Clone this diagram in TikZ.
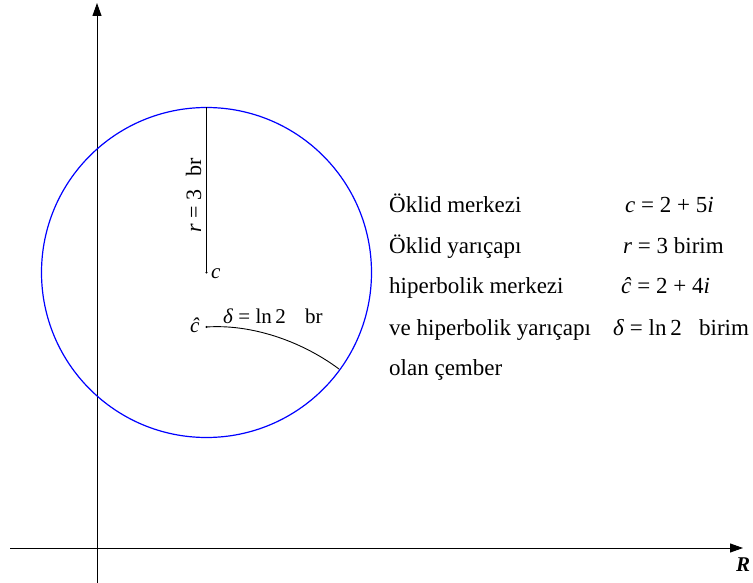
\documentclass[tikz,border=0pt]{standalone}
\usepackage{fontspec}
\setmainfont{Liberation Serif}
\usetikzlibrary{arrows.meta}
\begin{document}
\begin{tikzpicture}[x=1pt,y=-1pt,
  axis/.style={line width=1pt,-{Triangle[length=13pt,width=9pt]}},
  txt/.style={font=\fontsize{23}{27}\selectfont, anchor=base west, inner sep=0pt},
  lbl/.style={font=\fontsize{21}{25}\selectfont, anchor=base west, inner sep=0pt},
  dot/.style={circle, fill=black, inner sep=0pt, minimum size=2.4pt}]
\useasboundingbox (0,0) rectangle (753,583);
% axes
\coordinate (xs) at (10,548);
\coordinate (xe) at (743,548);
\coordinate (ys) at (97,583);
\coordinate (ye) at (97,3);
\draw[axis] (xs) -- (xe);
\draw[axis] (ys) -- (ye);
\node[font=\fontsize{21}{25}\selectfont\bfseries\itshape, inner sep=0pt] (R) at (743,565) {R};
% circle
\coordinate (c0) at (206.5,272.5);
\draw[blue, line width=1.2pt] (c0) circle (165pt);
\coordinate (top) at (206.5,107.5);
\node[dot] (c) at (c0) {};
\draw[line width=0.9pt] (c.center) -- (top);
\node[lbl, rotate=90, font=\fontsize{22}{26}\selectfont] (rlab) at (201,233) {\textit{r} = 3\,\, br};
\node[lbl] (clab) at (211,278) {\textit{c}};
% hyperbolic centre and radius
\node[dot] (ch) at (206.5,327) {};
\coordinate (e) at (339,369);
\draw[line width=0.9pt] (ch.center) .. controls (250,324) and (300,340) .. (e);
\node[lbl] (chlab) at (190,332) {\textit{ĉ}};
\node[lbl] (dlab) at (223,323) {\textit{δ} = ln\,2\hspace{14pt} br};
% legend
\node[txt] (t1) at (389,213) {Öklid merkezi};
\node[txt] (t2) at (389,253) {Öklid yarıçapı};
\node[txt] (t3) at (389,293) {hiperbolik merkezi};
\node[txt] (t4) at (389,335) {ve hiperbolik yarıçapı};
\node[txt] (t5) at (389,375) {olan çember};
\node[txt] (v1) at (625,213) {\textit{c} = 2 + 5\textit{i}};
\node[txt] (v2) at (623,253) {\textit{r} = 3 birim};
\node[txt] (v3) at (621,293) {\textit{ĉ} = 2 + 4\textit{i}};
\node[txt] (v4) at (613,335) {\textit{δ} = ln\,2\enskip{} birim};
\end{tikzpicture}
\end{document}
